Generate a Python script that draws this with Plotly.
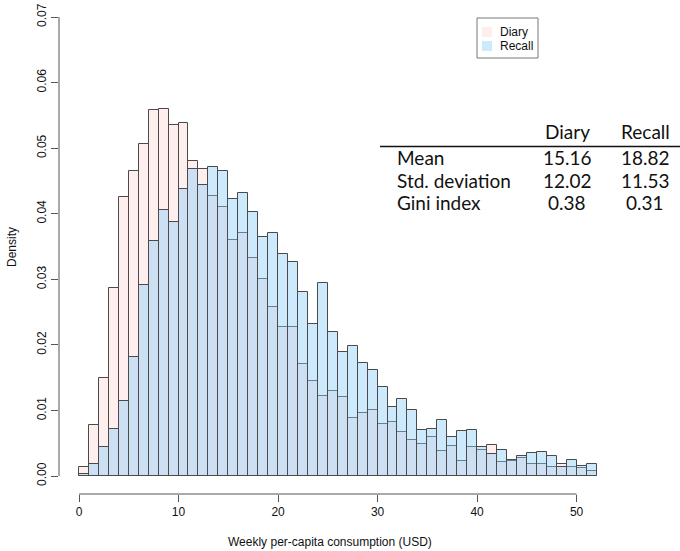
import plotly.graph_objects as go

# Weekly per-capita consumption histograms (density per 1 USD bin, 0-52)
bin_left = list(range(52))

diary_density = [
    0.0014, 0.0078, 0.0150, 0.0287, 0.0425, 0.0465, 0.0507, 0.0558, 0.0560, 0.0535,
    0.0539, 0.0481, 0.0468, 0.0427, 0.0410, 0.0360, 0.0370, 0.0333, 0.0301, 0.0258,
    0.0228, 0.0227, 0.0171, 0.0145, 0.0122, 0.0130, 0.0121, 0.0089, 0.0096, 0.0100,
    0.0080, 0.0082, 0.0067, 0.0055, 0.0049, 0.0059, 0.0038, 0.0046, 0.0023, 0.0044,
    0.0039, 0.0047, 0.0021, 0.0023, 0.0028, 0.0018, 0.0018, 0.0013, 0.0019, 0.0013,
    0.0012, 0.0007,
]

recall_density = [
    0.0003, 0.0018, 0.0044, 0.0072, 0.0115, 0.0182, 0.0291, 0.0358, 0.0405, 0.0387,
    0.0437, 0.0468, 0.0444, 0.0472, 0.0465, 0.0422, 0.0431, 0.0402, 0.0364, 0.0370,
    0.0338, 0.0327, 0.0280, 0.0232, 0.0295, 0.0220, 0.0189, 0.0198, 0.0173, 0.0161,
    0.0135, 0.0106, 0.0117, 0.0101, 0.0070, 0.0072, 0.0085, 0.0060, 0.0069, 0.0070,
    0.0044, 0.0033, 0.0039, 0.0025, 0.0031, 0.0035, 0.0037, 0.0031, 0.0013, 0.0025,
    0.0016, 0.0018,
]

x_ticks = [0, 10, 20, 30, 40, 50]
y_ticks = [0.00, 0.01, 0.02, 0.03, 0.04, 0.05, 0.06, 0.07]
y_tick_labels = ["0.00", "0.01", "0.02", "0.03", "0.04", "0.05", "0.06", "0.07"]

series_names = ["Diary", "Recall"]
stat_rows = ["Mean", "Std. deviation", "Gini index"]
diary_stats = ["15.16", "12.02", "0.38"]
recall_stats = ["18.82", "11.53", "0.31"]

DIARY_FILL = "rgba(255,200,200,0.30)"
RECALL_FILL = "rgba(135,206,250,0.42)"
EDGE = "#4a4a4a"

W, H = 680, 551
ML, MR, MT, MB = 59, 83, 0, 57
PW, PH = W - ML - MR, H - MT - MB


def px(x):
    return (x - ML) / PW


def py(y):
    return (H - MB - y) / PH


centers = [b + 0.5 for b in bin_left]

fig = go.Figure()
fig.add_trace(go.Bar(x=centers, y=diary_density, width=1, name=series_names[0],
                     marker=dict(color=DIARY_FILL, line=dict(color=EDGE, width=1))))
fig.add_trace(go.Bar(x=centers, y=recall_density, width=1, name=series_names[1],
                     marker=dict(color=RECALL_FILL, line=dict(color=EDGE, width=1))))

axis_font = dict(family="Liberation Sans, Arial, sans-serif", size=12, color="#111")

fig.update_layout(
    width=W, height=H,
    margin=dict(l=ML, r=MR, t=MT, b=MB),
    paper_bgcolor="white", plot_bgcolor="white",
    barmode="overlay", bargap=0, showlegend=False,
    font=axis_font,
    xaxis=dict(range=[-2.012, 52.05], tickvals=x_ticks, ticks="outside", ticklen=7,
               tickcolor="#555", tickwidth=1, showgrid=False, zeroline=False,
               showline=False, tickfont=axis_font),
    yaxis=dict(range=[-0.002745, 0.0726], tickvals=y_ticks, ticktext=y_tick_labels,
               tickangle=-90, ticks="outside", ticklen=7, tickcolor="#555", tickwidth=1,
               showgrid=False, zeroline=False, showline=False, tickfont=axis_font),
)

# Detached R-style axis lines spanning only the tick range
fig.add_shape(type="line", xref="x", yref="paper", x0=x_ticks[0], x1=x_ticks[-1], y0=0, y1=0,
              line=dict(color="#555", width=1))
fig.add_shape(type="line", xref="paper", yref="y", x0=0, x1=0, y0=y_ticks[0], y1=y_ticks[-1],
              line=dict(color="#555", width=1))

# Axis titles
fig.add_annotation(text="Weekly per-capita consumption (USD)", xref="paper", yref="paper",
                   x=px(330), y=py(542), showarrow=False, font=axis_font,
                   xanchor="center", yanchor="middle")
fig.add_annotation(text="Density", xref="paper", yref="paper", x=px(12), y=py(247),
                   showarrow=False, textangle=-90, font=axis_font,
                   xanchor="center", yanchor="middle")

# Legend box
fig.add_shape(type="rect", xref="paper", yref="paper", x0=px(477), x1=px(538), y0=py(58), y1=py(18),
              line=dict(color="#777", width=1), fillcolor="white")
for i, (name, col) in enumerate(zip(series_names, [DIARY_FILL, RECALL_FILL])):
    top = 27 + i * 14
    fig.add_shape(type="rect", xref="paper", yref="paper", x0=px(482), x1=px(492),
                  y0=py(top + 10), y1=py(top), line=dict(width=0), fillcolor=col)
    fig.add_annotation(text=name, xref="paper", yref="paper", x=px(498), y=py(top + 5),
                       showarrow=False, xanchor="left", yanchor="middle",
                       font=dict(family="Liberation Sans, Arial, sans-serif", size=12, color="#111"))

# Summary statistics table
table_font = dict(family="Lato, Open Sans, sans-serif", size=19, color="#111")
col_x = [567, 645]
header_y = 132
fig.add_shape(type="line", xref="paper", yref="paper", x0=px(380), x1=px(680),
              y0=py(146.5), y1=py(146.5), line=dict(color="#111", width=1.3))
for cx, name in zip(col_x, series_names):
    fig.add_annotation(text=name, xref="paper", yref="paper", x=px(cx), y=py(header_y),
                       showarrow=False, xanchor="center", yanchor="middle", font=table_font)
for r, (label, dv, rv) in enumerate(zip(stat_rows, diary_stats, recall_stats)):
    ry = 157.5 + r * 22.5
    fig.add_annotation(text=label, xref="paper", yref="paper", x=px(395), y=py(ry),
                       showarrow=False, xanchor="left", yanchor="middle", font=table_font)
    for cx, v in zip(col_x, [dv, rv]):
        fig.add_annotation(text=v, xref="paper", yref="paper", x=px(cx), y=py(ry),
                           showarrow=False, xanchor="center", yanchor="middle", font=table_font)

fig.write_html("out.html")
